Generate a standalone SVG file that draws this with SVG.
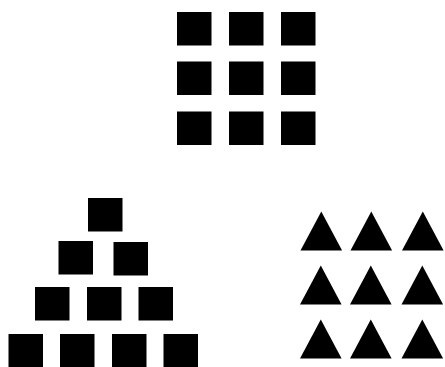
<svg xmlns="http://www.w3.org/2000/svg" width="445" height="367" viewBox="0 0 445 367">
<defs>
<style>.s{fill:#000}</style>
<rect id="sq" width="34.5" height="33.5" class="s"/>
<polygon id="tri" points="0,39 20.8,0 41.6,39" class="s"/>
</defs>
<rect width="445" height="367" fill="#fff"/>
<g id="grid">
<use href="#sq" x="177" y="12"/><use href="#sq" x="229" y="12"/><use href="#sq" x="281" y="12"/>
<use href="#sq" x="177" y="61.5"/><use href="#sq" x="229" y="61.5"/><use href="#sq" x="281" y="61.5"/>
<use href="#sq" x="177" y="111.5"/><use href="#sq" x="229" y="111.5"/><use href="#sq" x="281" y="111.5"/>
</g>
<g id="pyramid">
<use href="#sq" x="88" y="198"/>
<use href="#sq" x="58.5" y="241"/><use href="#sq" x="113.5" y="242"/>
<use href="#sq" x="35" y="287"/><use href="#sq" x="87" y="287"/><use href="#sq" x="138.5" y="287"/>
<use href="#sq" x="8.5" y="334"/><use href="#sq" x="60" y="334"/><use href="#sq" x="112" y="334"/><use href="#sq" x="163.5" y="334"/>
</g>
<g id="triangles">
<use href="#tri" x="300.5" y="211.5"/><use href="#tri" x="350.5" y="211.5"/><use href="#tri" x="402" y="211.5"/>
<use href="#tri" x="300" y="265.5"/><use href="#tri" x="350" y="265.5"/><use href="#tri" x="401.5" y="265.5"/>
<use href="#tri" x="300" y="319.5"/><use href="#tri" x="350" y="319.5"/><use href="#tri" x="401.5" y="319.5"/>
</g>
</svg>
